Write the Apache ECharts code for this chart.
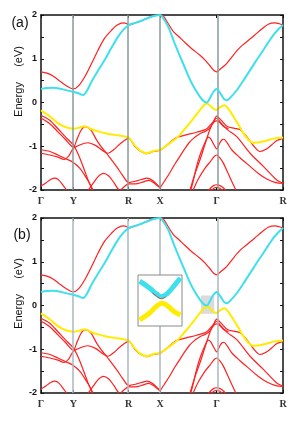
<!DOCTYPE html>
<html><head><meta charset="utf-8">
<script src="https://cdn.jsdelivr.net/npm/echarts@6/dist/echarts.min.js"></script>
<style>html,body{margin:0;padding:0;background:#fff}#c{width:299px;height:422px}</style>
</head><body><div id="c"></div>
<script>
// high-symmetry k-points (fraction of path) and labels
const kPos = [0, 0.1335, 0.362, 0.492, 0.726, 1];
const kLabels = ['Γ', 'Y', 'R', 'X', 'Γ', 'R'];
const energyRange = [-2, 2];

// conduction bands
const cyanBand = [[0,0.31],[0.025,0.33],[0.051,0.34],[0.09,0.3],[0.1335,0.245],[0.155,0.21],[0.174,0.17],[0.19,0.27],[0.208,0.47],[0.235,0.72],[0.263,0.97],[0.29,1.24],[0.318,1.5],[0.34,1.66],[0.362,1.77],[0.39,1.82],[0.42,1.88],[0.45,1.95],[0.475,1.99],[0.492,2.0],[0.51,1.88],[0.526,1.73],[0.554,1.33],[0.588,0.88],[0.623,0.44],[0.657,0.13],[0.675,0.02],[0.685,0.0],[0.698,0.1],[0.712,0.24],[0.726,0.31],[0.74,0.22],[0.755,0.09],[0.767,0.05],[0.78,0.1],[0.809,0.28],[0.836,0.5],[0.864,0.74],[0.891,0.97],[0.919,1.2],[0.94,1.38],[0.96,1.54],[0.98,1.67],[1.0,1.77]];
const redCond = [[0,0.70],[0.025,0.67],[0.051,0.6],[0.075,0.5],[0.1,0.4],[0.1335,0.31],[0.155,0.38],[0.181,0.59],[0.208,0.88],[0.236,1.2],[0.263,1.47],[0.291,1.65],[0.315,1.77],[0.34,1.82],[0.355,1.8],[0.362,1.77],[0.39,1.82],[0.42,1.88],[0.45,1.95],[0.475,1.99],[0.492,2.0],[0.505,1.98],[0.526,1.8],[0.547,1.62],[0.567,1.52],[0.595,1.37],[0.623,1.23],[0.657,1.08],[0.678,0.97],[0.698,0.84],[0.715,0.73],[0.726,0.70],[0.74,0.76],[0.767,0.89],[0.79,1.05],[0.809,1.18],[0.83,1.3],[0.85,1.39],[0.87,1.48],[0.891,1.58],[0.915,1.69],[0.939,1.79],[0.967,1.82],[0.985,1.8],[1.0,1.77]];

// top valence band
const yellowBand = [[0,-0.18],[0.037,-0.32],[0.07,-0.47],[0.1,-0.56],[0.1335,-0.6],[0.16,-0.57],[0.181,-0.54],[0.205,-0.6],[0.236,-0.66],[0.27,-0.71],[0.306,-0.74],[0.34,-0.77],[0.362,-0.80],[0.388,-0.98],[0.41,-1.1],[0.437,-1.16],[0.465,-1.11],[0.492,-1.08],[0.515,-1.0],[0.54,-0.9],[0.567,-0.78],[0.595,-0.6],[0.622,-0.42],[0.65,-0.22],[0.672,-0.07],[0.685,-0.02],[0.7,-0.08],[0.715,-0.15],[0.726,-0.17],[0.742,-0.1],[0.758,-0.06],[0.775,-0.15],[0.795,-0.32],[0.815,-0.5],[0.836,-0.7],[0.857,-0.85],[0.877,-0.92],[0.905,-0.91],[0.933,-0.87],[0.965,-0.82],[1.0,-0.80]];

// other valence bands (red)
const redL1 = [[0,-0.29],[0.035,-0.4],[0.07,-0.6],[0.1,-0.78],[0.1335,-0.97],[0.155,-1.2],[0.175,-1.48],[0.195,-1.78],[0.212,-2.0]];
const redL2 = [[0,-0.36],[0.035,-0.48],[0.07,-0.67],[0.1,-0.84],[0.1335,-1.02],[0.15,-0.82],[0.165,-0.64],[0.181,-0.55],[0.205,-0.62],[0.23,-0.86],[0.25,-1.02],[0.271,-1.16],[0.29,-1.3],[0.313,-1.47],[0.335,-1.65],[0.354,-1.8],[0.362,-1.83]];
const redL3 = [[0,-1.16],[0.037,-1.2],[0.07,-1.25],[0.095,-1.3],[0.115,-1.22],[0.1335,-1.05],[0.16,-0.97],[0.194,-0.92],[0.225,-0.98],[0.255,-1.1],[0.277,-1.16],[0.3,-1.08],[0.33,-0.93],[0.362,-0.82],[0.388,-1.0],[0.41,-1.11],[0.437,-1.17],[0.465,-1.12],[0.492,-1.09],[0.515,-1.0],[0.54,-0.88],[0.56,-0.8],[0.6,-0.74],[0.643,-0.68],[0.685,-0.6],[0.71,-0.45],[0.726,-0.36],[0.745,-0.48],[0.77,-0.62],[0.809,-0.78],[0.864,-1.16],[0.919,-1.46],[0.974,-1.77],[1.0,-1.84]];
const redL4 = [[0,-1.08],[0.037,-1.12],[0.07,-1.2],[0.1,-1.28],[0.1335,-1.37],[0.16,-1.5],[0.18,-1.66],[0.2,-1.84],[0.215,-2.0]];
const redL5 = [[0,-1.91],[0.02,-1.84],[0.04,-1.76],[0.058,-1.73],[0.075,-1.78],[0.092,-1.9],[0.106,-2.0]];
const redL6 = [[0.195,-2.0],[0.215,-1.85],[0.235,-1.7],[0.258,-1.62],[0.28,-1.68],[0.3,-1.82],[0.315,-1.95],[0.322,-2.0]];
const redL7 = [[0.33,-2.0],[0.345,-1.92],[0.362,-1.86],[0.39,-1.86],[0.42,-1.82],[0.445,-1.78],[0.47,-1.85],[0.492,-1.95]];
const redR7 = [[0.362,-1.83],[0.39,-1.8],[0.415,-1.76],[0.437,-1.73],[0.46,-1.78],[0.48,-1.88],[0.492,-1.95]];
const redR1 = [[0.492,-1.95],[0.51,-1.8],[0.533,-1.6],[0.554,-1.4],[0.574,-1.23],[0.595,-1.05],[0.612,-0.92],[0.63,-0.82],[0.655,-0.72],[0.678,-0.66],[0.695,-0.6],[0.71,-0.48],[0.726,-0.31],[0.745,-0.41],[0.77,-0.55],[0.8,-0.59],[0.822,-0.62],[0.85,-0.78],[0.88,-1.0],[0.905,-1.12],[0.93,-1.07],[0.953,-0.97],[0.975,-0.87],[1.0,-0.82]];
const redR3 = [[0.616,-2.0],[0.635,-1.65],[0.657,-1.31],[0.675,-1.0],[0.69,-0.74],[0.705,-0.52],[0.716,-0.44],[0.726,-0.42],[0.738,-0.45],[0.755,-0.55],[0.775,-0.6]];
const redR4 = [[0.618,-2.0],[0.623,-1.92],[0.633,-1.7],[0.643,-1.46],[0.657,-1.2],[0.671,-1.0],[0.683,-0.85],[0.691,-0.79],[0.7,-0.82],[0.713,-0.95],[0.726,-1.06],[0.738,-0.93],[0.748,-0.85],[0.756,-0.84],[0.77,-0.93],[0.788,-1.08],[0.82,-1.25],[0.864,-1.46],[0.9,-1.63],[0.933,-1.75],[0.97,-1.83],[1.0,-1.85]];
const redR5 = [[0.629,-2.0],[0.65,-1.75],[0.678,-1.5],[0.7,-1.35],[0.715,-1.24],[0.726,-1.2],[0.74,-1.27],[0.753,-1.38],[0.77,-1.58],[0.788,-1.8],[0.805,-2.0]];
const redR6a = [[0.685,-2.08],[0.7,-1.96],[0.713,-1.9],[0.726,-1.88],[0.74,-1.9],[0.755,-1.96],[0.772,-2.08]];
const redR6b = [[0.695,-2.1],[0.708,-1.99],[0.718,-1.95],[0.726,-1.94],[0.735,-1.95],[0.746,-1.99],[0.76,-2.1]];

// panel (b): highlighted region [kMin, kMax, eMin, eMax] and zoomed inset
const highlightBox = [0.661, 0.716, -0.19, 0.23];
const insetK = [0.665, 0.705];
const insetE = [-0.1, 0.1];
const insetCyan = [[0.6665,0.076],[0.6755,0.049],[0.682,0.025],[0.6863,0.015],[0.691,0.025],[0.697,0.053],[0.7035,0.088]];
const insetRed = [[0.678,0.03],[0.682,0.017],[0.6863,0.007],[0.69,0.014]];
const insetYellow = [[0.6665,-0.076],[0.6755,-0.049],[0.682,-0.022],[0.6866,-0.011],[0.691,-0.018],[0.697,-0.041],[0.7035,-0.057]];

const RED = '#ff2020', CYAN = '#3fe0ec', YELLOW = '#ffec00';
const redBands = [redL5, redL6, redL7, redR7, redR6a, redR6b, redR5, redR4, redR3, redL4, redL1, redL2, redL3, redR1, redCond];

const chart = echarts.init(document.getElementById('c'), null, {renderer: 'canvas'});
const grids = [
  {left: 41, top: 15, width: 242, height: 175},
  {left: 41, top: 218, width: 242, height: 175},
  {left: 138, top: 275, width: 44, height: 51, show: true, backgroundColor: '#fff', borderColor: '#8a8a8a', borderWidth: 1, z: 20}
];
const xAxes = [], yAxes = [], series = [];
const axisLine = {show: true, onZero: false, lineStyle: {color: '#111', width: 1.5}};
[0, 1].forEach(g => {
  xAxes.push({gridIndex: g, type: 'value', min: 0, max: 1, position: 'bottom', axisLine,
    axisTick: {show: true, inside: true, length: 3, customValues: kPos, lineStyle: {color: '#111'}},
    axisLabel: {show: true, customValues: kPos, margin: 6, color: '#333', fontFamily: 'Liberation Serif', fontWeight: 'bold', fontSize: 10,
      formatter: v => kLabels[kPos.indexOf(v)]},
    splitLine: {show: false}});
  xAxes.push({gridIndex: g, type: 'value', min: 0, max: 1, position: 'top', axisLine,
    axisTick: {show: true, inside: true, length: 3, customValues: kPos, lineStyle: {color: '#111'}},
    axisLabel: {show: false}, splitLine: {show: false}});
  yAxes.push({gridIndex: g, type: 'value', min: energyRange[0], max: energyRange[1], interval: 1, position: 'left', axisLine,
    axisTick: {show: true, inside: true, length: 3, lineStyle: {color: '#111'}},
    minorTick: {show: true, splitNumber: 2, length: 3, lineStyle: {color: '#111'}},
    axisLabel: {margin: 4, color: '#111', fontFamily: 'Liberation Sans', fontWeight: 'bold', fontSize: 9},
    splitLine: {show: false}});
  yAxes.push({gridIndex: g, type: 'value', min: energyRange[0], max: energyRange[1], interval: 1, position: 'right', axisLine,
    axisTick: {show: true, inside: true, length: 3, lineStyle: {color: '#111'}},
    minorTick: {show: true, splitNumber: 2, length: 3, lineStyle: {color: '#111'}},
    axisLabel: {show: false}, splitLine: {show: false}});
});
xAxes.push({gridIndex: 2, type: 'value', min: insetK[0], max: insetK[1], show: false});
yAxes.push({gridIndex: 2, type: 'value', min: insetE[0], max: insetE[1], show: false});

function band(data, color, width, g, z) {
  return {type: 'line', xAxisIndex: 2 * g, yAxisIndex: 2 * g, data, symbol: 'none', showSymbol: false,
    smooth: 0.3, clip: true, silent: true, lineStyle: {color, width}, z};
}
[0, 1].forEach(g => {
  const guide = {type: 'line', xAxisIndex: 2 * g, yAxisIndex: 2 * g, data: [[0, 5]], symbol: 'none', silent: true, z: 1,
    lineStyle: {opacity: 0},
    markLine: {silent: true, symbol: 'none', label: {show: false},
      lineStyle: {color: g === 0 ? '#8a9a9a' : '#a8b8c0', width: 1.5, type: 'solid'},
      data: kPos.slice(1, 5).map(k => ({xAxis: k}))}};
  if (g === 1) {
    guide.markArea = {silent: true, itemStyle: {color: 'rgba(190,190,190,0.55)'},
      data: [[{coord: [highlightBox[0], highlightBox[3]]}, {coord: [highlightBox[1], highlightBox[2]]}]]};
  }
  series.push(guide);
  redBands.forEach(b => series.push(band(b, RED, 1.2, g, 3)));
  series.push(band(yellowBand, YELLOW, 2, g, 4));
  series.push(band(cyanBand, CYAN, 2, g, 5));
});
series.push({type: 'line', xAxisIndex: 4, yAxisIndex: 4, data: insetCyan, symbol: 'none', smooth: 0.4, silent: true, lineStyle: {color: CYAN, width: 5}, z: 21});
series.push({type: 'line', xAxisIndex: 4, yAxisIndex: 4, data: insetRed, symbol: 'none', smooth: 0.4, silent: true, lineStyle: {color: RED, width: 0.8}, z: 22});
series.push({type: 'line', xAxisIndex: 4, yAxisIndex: 4, data: insetYellow, symbol: 'none', smooth: 0.4, silent: true, lineStyle: {color: YELLOW, width: 5}, z: 21});

chart.setOption({
  animation: false,
  backgroundColor: '#fff',
  grid: grids, xAxis: xAxes, yAxis: yAxes, series,
  graphic: [
    {type: 'text', x: 20, y: 23, style: {text: '(a)', font: '14px "Liberation Sans"', fill: '#111', align: 'center', verticalAlign: 'middle'}},
    {type: 'text', x: 22, y: 235, style: {text: '(b)', font: '14px "Liberation Sans"', fill: '#111', align: 'center', verticalAlign: 'middle'}},
    {type: 'text', x: 19, y: 81.5, rotation: Math.PI / 2, style: {text: 'Energy     (eV)', font: '11px "Liberation Sans"', fill: '#111', align: 'center', verticalAlign: 'middle'}},
    {type: 'text', x: 19, y: 293.5, rotation: Math.PI / 2, style: {text: 'Energy     (eV)', font: '11px "Liberation Sans"', fill: '#111', align: 'center', verticalAlign: 'middle'}}
  ]
});
</script></body></html>
